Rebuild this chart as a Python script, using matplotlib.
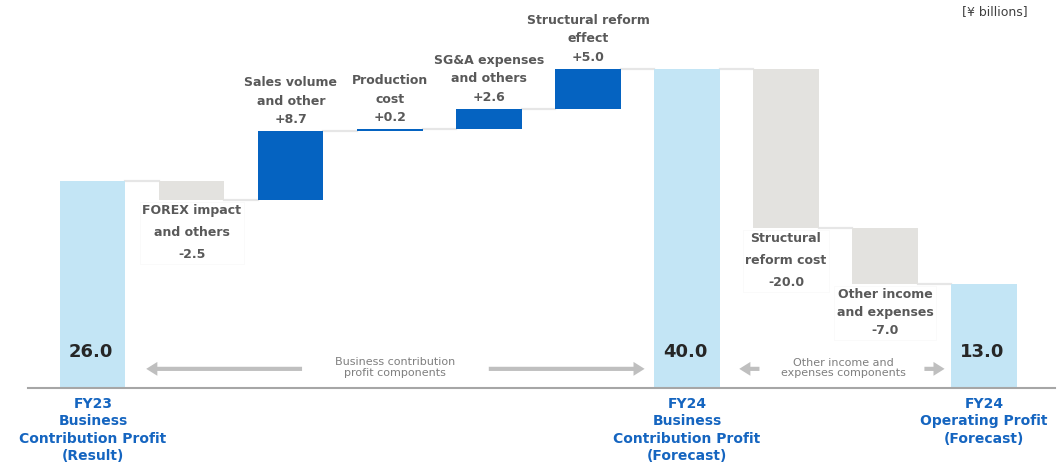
import matplotlib
matplotlib.use("Agg")
import matplotlib.pyplot as plt
import numpy as np

plt.rcParams["font.family"] = ["DejaVu Sans"]

# data
names = ["FY23\nBusiness\nContribution Profit\n(Result)",
         "FOREX impact\nand others",
         "Sales volume\nand other",
         "Production\ncost",
         "SG&A expenses\nand others",
         "Structural reform\neffect",
         "FY24\nBusiness\nContribution Profit\n(Forecast)",
         "Structural\nreform cost",
         "Other income\nand expenses",
         "FY24\nOperating Profit\n(Forecast)"]
values = [26.0, -2.5, 8.7, 0.2, 2.6, 5.0, 40.0, -20.0, -7.0, 13.0]
is_total = [True, False, False, False, False, False, True, False, False, True]

c_total = "#C3E5F5"
c_up = "#0563C1"
c_down = "#E3E2DF"
c_label = "#595959"
c_blue = "#1565C0"

# waterfall bottoms / tops
bottoms, tops = [], []
run = 0.0
for v, t in zip(values, is_total):
    if t:
        run = v
        bottoms.append(0.0)
        tops.append(v)
    else:
        b = run
        run = run + v
        bottoms.append(min(b, run))
        tops.append(max(b, run))

x = np.arange(len(values))
w = 0.657

fig = plt.figure(figsize=(10.64, 4.73), dpi=100)
ax = fig.add_axes([0, 0, 1, 1])
ax.set_xlim(-0.939, 9.808)
ax.set_ylim(-10.65, 48.62)
ax.axis("off")

colors = []
for v, t in zip(values, is_total):
    colors.append(c_total if t else (c_up if v > 0 else c_down))
heights = [tp - bt for tp, bt in zip(tops, bottoms)]
ax.bar(x, heights, bottom=bottoms, width=w, color=colors, zorder=2)

# connector lines
run_levels = []
run = 0.0
for v, t in zip(values, is_total):
    run = v if t else run + v
    run_levels.append(run)
for i in range(len(values) - 1):
    ax.plot([x[i] + w / 2, x[i + 1] - w / 2], [run_levels[i], run_levels[i]],
            color="#E6E6E6", lw=1.6, zorder=1)

# baseline
ax.axhline(0, xmin=0.026, xmax=0.992, color="#A6A6A6", lw=1.5, zorder=3)

# delta labels
spacing = {1: 1.9, 2: 1.55, 3: 1.55, 4: 1.55, 5: 1.55, 7: 1.9, 8: 1.5}
for i in range(len(values)):
    if is_total[i]:
        continue
    txt = names[i] + "\n" + f"{values[i]:+.1f}"
    if values[i] > 0:
        ax.annotate(txt, (x[i], tops[i]), xytext=(0, 5), textcoords="offset pixels",
                    ha="center", va="bottom", fontsize=9, fontweight="bold",
                    color=c_label, linespacing=spacing[i])
    else:
        ax.annotate(txt, (x[i], bottoms[i]), xytext=(0, -4), textcoords="offset pixels",
                    ha="center", va="top", fontsize=9, fontweight="bold",
                    color=c_label, linespacing=spacing[i],
                    bbox=dict(facecolor="white", edgecolor="#F8F8F8", lw=0.5, pad=2))

# total values and category names
for i in range(len(values)):
    if not is_total[i]:
        continue
    ax.annotate(f"{values[i]:.1f}", (x[i], 0), xytext=(-2, 36), textcoords="offset pixels",
                ha="center", va="center", fontsize=13, fontweight="bold", color="#262626",
                zorder=4)
    ax.annotate(names[i], (x[i], 0), xytext=(0, -9), textcoords="offset pixels",
                ha="center", va="top", fontsize=10, fontweight="bold", color=c_blue,
                linespacing=1.3)

# component arrows
arrow = dict(arrowstyle="simple,head_width=1.0,head_length=0.8,tail_width=0.3",
             color="#BFBFBF", lw=0)
ya = 2.4
ax.annotate("", xy=(0.51, ya), xytext=(2.14, ya), arrowprops=arrow)
ax.annotate("", xy=(5.6, ya), xytext=(3.97, ya), arrowprops=arrow)
ax.text(3.05, ya + 0.2, "Business contribution\nprofit components", ha="center", va="center",
        fontsize=8, color="#7F7F7F", linespacing=1.1)
ax.annotate("", xy=(6.5, ya), xytext=(6.76, ya), arrowprops=arrow)
ax.annotate("", xy=(8.63, ya), xytext=(8.37, ya), arrowprops=arrow)
ax.text(7.58, ya + 0.1, "Other income and\nexpenses components", ha="center", va="center",
        fontsize=8, color="#7F7F7F", linespacing=1.1)

fig.text(0.935, 0.975, "[¥ billions]", ha="center", va="center", fontsize=9, color="#404040")

fig.savefig("out.png", dpi=100)
